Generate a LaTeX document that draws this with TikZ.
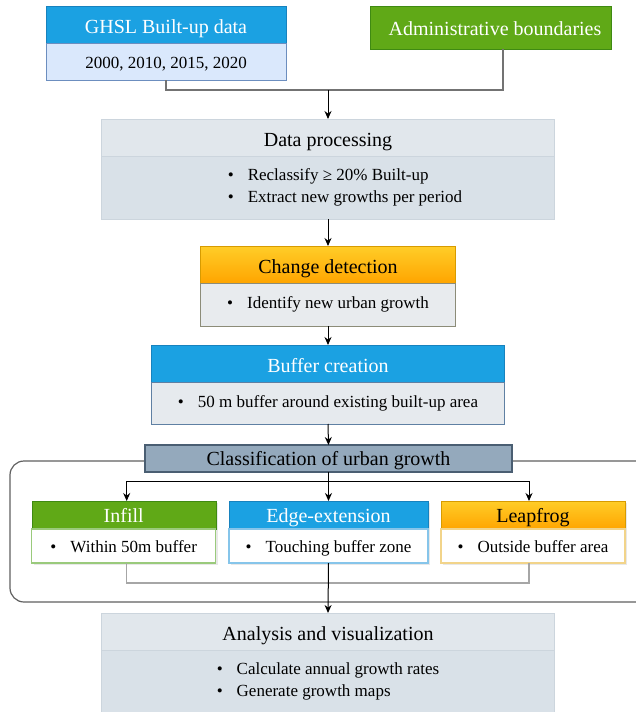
\documentclass[tikz,border=0pt]{standalone}
\usepackage{fontspec}
\setmainfont{Liberation Serif}
\usetikzlibrary{positioning,arrows.meta,shadows}
\definecolor{hblue}{HTML}{1BA1E2}
\definecolor{hblueD}{HTML}{1782BE}
\definecolor{hgreen}{HTML}{60A917}
\definecolor{hgreenD}{HTML}{3F8A12}
\definecolor{orangeT}{HTML}{FFCD28}
\definecolor{orangeB}{HTML}{FFA500}
\definecolor{orangeD}{HTML}{D79B00}
\definecolor{ghslfill}{HTML}{DAE8FC}
\definecolor{ghslD}{HTML}{6C8EBF}
\definecolor{procH}{HTML}{E1E7EC}
\definecolor{procB}{HTML}{D9E1E8}
\definecolor{procD}{HTML}{CCD5DD}
\definecolor{chgB}{HTML}{E8EBEE}
\definecolor{chgD}{HTML}{8C8C78}
\definecolor{bufB}{HTML}{E6EAEE}
\definecolor{bufD}{HTML}{5F80A3}
\definecolor{clsfill}{HTML}{94A9BC}
\definecolor{clsD}{HTML}{4A5E72}
\definecolor{infD}{HTML}{9ACA7C}
\definecolor{edgD}{HTML}{86C5EA}
\definecolor{lfgD}{HTML}{F2D48A}
\newcommand{\bul}[1]{\textbullet\hspace{14pt}#1}

\begin{document}
\begin{tikzpicture}[x=1pt,y=-1pt,
    hdr/.style={draw, minimum height=37pt, inner sep=0pt, outer sep=0pt,
        text height=17pt, text depth=0pt, font=\fontsize{20}{24}\selectfont},
    bdy/.style={draw, inner sep=0pt, outer sep=0pt, align=center,
        font=\fontsize{17}{22}\selectfont},
    orng/.style={top color=orangeT, bottom color=orangeB, draw=orangeD},
    shd/.style={drop shadow={opacity=0.18, shadow xshift=2pt, shadow yshift=-2pt}},
    arr/.style={-{Stealth[length=8pt,width=7pt]}, line width=1pt},
    feed/.style={draw=gray!90!black, line width=1.8pt},
    back/.style={draw=gray!70, line width=1.2pt}]
    \useasboundingbox (0,0) rectangle (636,712);
    % container of the three classes
    \draw[rounded corners=14pt, draw=gray!75!black, line width=1.2pt] (10,461) rectangle (650,602);
    % inputs
    \node[hdr, fill=hblue, draw=hblueD, text=white, minimum width=240pt] (ghslH) at (166,24.5) {GHSL Built-up data};
    \node[bdy, fill=ghslfill, draw=ghslD, text height=13.6pt, text depth=0pt, minimum width=240pt, minimum height=37pt, below=0pt of ghslH] (ghslB) {2000, 2010, 2015, 2020};
    \node[hdr, fill=hgreen, draw=hgreenD, text=white, text height=15pt, minimum width=241pt, minimum height=43pt] (admin) at (491,27.5) {\hspace{8pt}Administrative boundaries};
    % data processing
    \node[hdr, fill=procH, draw=procD, minimum width=453pt] (dataH) at (328,137.5) {Data processing};
    \node[bdy, fill=procB, draw=procD, align=left, minimum width=453pt, minimum height=63pt, below=0pt of dataH] (dataB)
        {\hspace*{34pt}\bul{Reclassify ≥ 20\% Built-up}\\ \hspace*{34pt}\bul{Extract new growths per period}};
    % change detection
    \node[hdr, orng, minimum width=255pt] (chgH) at (328,264.5) {Change detection};
    \node[bdy, fill=chgB, draw=chgD, minimum width=255pt, minimum height=43pt, below=0pt of chgH] (chgB) {\bul{Identify new urban growth}};
    % buffer creation
    \node[hdr, fill=hblue, draw=hblueD, text=white, minimum width=353pt] (bufH) at (328,363.5) {Buffer creation};
    \node[bdy, fill=bufB, draw=bufD, minimum width=353pt, minimum height=42pt, below=0pt of bufH] (bufB) {\bul{50 m buffer around existing built-up area}};
    % classification
    \node[hdr, fill=clsfill, draw=clsD, line width=1.2pt, text height=13pt, minimum width=367pt, minimum height=27pt] (cls) at (328.5,458.5) {Classification of urban growth};
    \node[hdr, shd, fill=hgreen, draw=hgreenD, text=white, text height=15.5pt, minimum width=184pt, minimum height=28pt] (infH) at (123.7,515) {Infill};
    \node[bdy, shd, fill=white, draw=infD, line width=1.2pt, text height=13pt, text depth=0pt, minimum width=184pt, minimum height=34pt, below=0pt of infH] (infB) {\bul{Within 50m buffer}};
    \node[hdr, shd, fill=hblue, draw=hblueD, text=white, text height=15.5pt, minimum width=199pt, minimum height=28pt] (edgH) at (328.5,515) {Edge-extension};
    \node[bdy, shd, fill=white, draw=edgD, line width=1.2pt, text height=13pt, text depth=0pt, minimum width=199pt, minimum height=34pt, below=0pt of edgH] (edgB) {\bul{Touching buffer zone}};
    \node[hdr, shd, orng, text height=15.5pt, minimum width=184pt, minimum height=28pt] (lfgH) at (533,515) {Leapfrog};
    \node[bdy, shd, fill=white, draw=lfgD, line width=1.2pt, text height=13pt, text depth=0pt, minimum width=184pt, minimum height=34pt, below=0pt of lfgH] (lfgB) {\bul{Outside buffer area}};
    % analysis
    \node[hdr, fill=procH, draw=procD, minimum width=453pt] (anaH) at (328,631.5) {Analysis and visualization};
    \node[bdy, fill=procB, draw=procD, align=left, minimum width=453pt, minimum height=62pt, below=0pt of anaH] (anaB)
        {\bul{Calculate annual growth rates}\\ \bul{Generate growth maps}};
    % connectors
    \coordinate (merge) at (328,90);
    \coordinate (split) at (328,481);
    \coordinate (join) at (328,583);
    \draw[feed] (ghslB.south) |- (merge) -| ([xshift=12pt]admin.south);
    \draw[arr] (merge) -- (dataH.north);
    \draw[arr] (dataB.south) -- (chgH.north);
    \draw[arr] (chgB.south) -- (bufH.north);
    \draw[arr] (bufB.south) -- (cls.north);
    \draw[arr] (cls.south) -- (edgH.north);
    \draw[arr] (split) -| ([xshift=3pt]infH.north);
    \draw[arr] (split) -| ([xshift=-4pt]lfgH.north);
    \draw[back] ([xshift=3pt]infB.south) |- (join) -| ([xshift=-4pt]lfgB.south);
    \draw[arr] (edgB.south) -- (anaH.north);
\end{tikzpicture}
\end{document}
